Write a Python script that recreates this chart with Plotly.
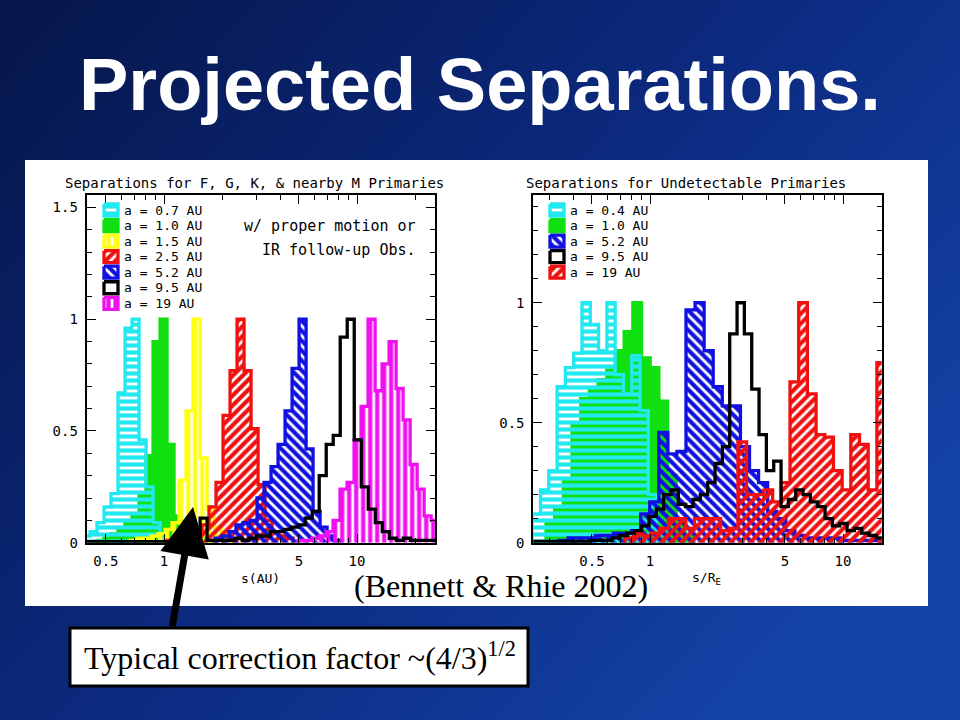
import base64
import plotly.graph_objects as go

# ---------------- data (log10 of first bin edge, bin width in dex, bin heights) ----------------
# Left panel: "Separations for F, G, K, & nearby M Primaries"  (x = s in AU)
L_WIDTH = 0.0363
L_CYAN_START = -0.4197
L_CYAN = [0.03, 0.05, 0.09, 0.16, 0.22, 0.67, 0.96, 1.0, 0.46, 0.25, 0.09, 0.02]
L_GREEN_START = -0.3472
L_GREEN = [0.01, 0.02, 0.04, 0.06, 0.09, 0.12, 0.21, 0.39, 0.9, 1.0, 0.44, 0.12, 0.07, 0.05, 0.03, 0.02, 0.01]
L_YELLOW_START = -0.1762
L_YELLOW = [0.01, 0.02, 0.02, 0.03, 0.04, 0.06, 0.09, 0.28, 0.59, 1.0, 0.38, 0.15, 0.07, 0.04, 0.02]
L_RED_START = 0.0155
L_RED = [0.01, 0.01, 0.02, 0.02, 0.04, 0.08, 0.16, 0.27, 0.57, 0.77, 1.0, 0.77, 0.51, 0.26, 0.1, 0.05, 0.03, 0.02]
L_BLUE_START = 0.2642
L_BLUE = [0.02, 0.03, 0.05, 0.08, 0.09, 0.1, 0.2, 0.27, 0.34, 0.44, 0.59, 0.78, 1.0, 0.42, 0.14, 0.07, 0.03, 0.01]
L_BLACK_START = -0.3938
L_BLACK = [0.005, 0.005, 0.005, 0.005, 0.005, 0.005, 0.005, 0.005, 0.005, 0.005, 0.005, 0.005, 0.005, 0.005, 0.005,
           0.01, 0.11, 0.01, 0.01, 0.01, 0.01, 0.02, 0.01, 0.02, 0.03, 0.03, 0.05, 0.05, 0.06, 0.07, 0.08,
           0.11, 0.14, 0.3, 0.44, 0.48, 0.92, 1.0, 0.46, 0.25, 0.15, 0.09, 0.05, 0.02, 0.01, 0.02, 0.01,
           0.01, 0.01, 0.01]
L_MAGENTA_START = 0.6943
L_MAGENTA = [0.01, 0.01, 0.02, 0.03, 0.05, 0.1, 0.24, 0.27, 0.46, 0.61, 1.0, 0.68, 0.8, 0.9, 0.69, 0.55, 0.35,
             0.24, 0.12, 0.1]
L_LABELS = ["a = 0.7 AU", "a = 1.0 AU", "a = 1.5 AU", "a = 2.5 AU", "a = 5.2 AU", "a = 9.5 AU", "a = 19 AU"]

# Right panel: "Separations for Undetectable Primaries"  (x = s / R_E)
R_CYAN_START, R_CYAN_WIDTH = -0.6104, 0.043
R_CYAN = [0.12, 0.22, 0.3, 0.65, 0.73, 0.79, 1.0, 0.91, 0.8, 1.0, 0.7, 0.62, 0.78, 0.55, 0.2, 0.05]
R_GREEN_START, R_GREEN_WIDTH = -0.5389, 0.045
R_GREEN = [0.08, 0.15, 0.26, 0.5, 0.6, 0.64, 0.68, 0.72, 0.8, 0.88, 1.0, 0.77, 0.73, 0.59, 0.28, 0.08, 0.03]
R_BLUE_START, R_BLUE_WIDTH = -0.4715, 0.047
R_BLUE = [0.01, 0.02, 0.02, 0.02, 0.03, 0.03, 0.04, 0.04, 0.05, 0.12, 0.17, 0.46, 0.37, 0.38, 0.97, 1.0, 0.8,
          0.65, 0.57, 0.57, 0.4, 0.3, 0.25, 0.13, 0.1, 0.05, 0.03, 0.02, 0.02, 0.02, 0.02, 0.01, 0.01, 0.01,
          0.01, 0.01]
R_BLACK_START, R_BLACK_WIDTH = -0.6130, 0.038
R_BLACK = [0.005, 0.005, 0.005, 0.005, 0.005, 0.005, 0.005, 0.005, 0.01, 0.01, 0.01, 0.02, 0.03,
           0.04, 0.05, 0.07, 0.11, 0.14, 0.2, 0.22, 0.16, 0.15, 0.18, 0.2, 0.25, 0.33, 0.4, 0.87, 1.0, 0.87,
           0.64, 0.45, 0.3, 0.34, 0.15, 0.18, 0.22, 0.2, 0.17, 0.15, 0.1, 0.07, 0.08, 0.05, 0.06, 0.04, 0.03,
           0.02]
R_RED_START, R_RED_WIDTH = -0.1295, 0.045
R_RED = [0.02, 0.04, 0.03, 0.04, 0.06, 0.1, 0.1, 0.06, 0.1, 0.1, 0.1, 0.05, 0.06, 0.42, 0.2, 0.2, 0.22, 0.17,
         0.25, 0.67, 1.0, 0.62, 0.45, 0.44, 0.3, 0.22, 0.45, 0.41, 0.22, 0.75]
R_LABELS = ["a = 0.4 AU", "a = 1.0 AU", "a = 5.2 AU", "a = 9.5 AU", "a = 19 AU"]

LEFT_TICKS = [0.5, 1, 5, 10]
LEFT_TICKTEXT = ["0.5", "1", "5", "10"]
RIGHT_TICKS = [0.5, 1, 5, 10]
RIGHT_TICKTEXT = ["0.5", "1", "5", "10"]

# ---------------- styles ----------------
CYAN, GREEN, YELLOW, RED, BLUE, BLACK, MAGENTA = "#22e8f0", "#10e010", "#ffff10", "#f01010", "#1010e0", "#000000", "#f010f0"
STYLE = {
    "cyan": (CYAN, "-"), "green": (GREEN, None), "yellow": (YELLOW, "|"), "red": (RED, "/"),
    "blue": (BLUE, "\\"), "black": (BLACK, "none"), "magenta": (MAGENTA, "|"),
}
MONO = "DejaVu Sans Mono"
W, H = 960, 720


def px(x):
    return x / W


def py(y):
    return 1 - y / H


def step_xy(start, width, heights):
    edges = [10 ** (start + i * width) for i in range(len(heights) + 1)]
    xs = [edges[0]] + edges[:-1] + [edges[-1]]
    ys = [0] + list(heights) + [0]
    return xs, ys


def fill_kwargs(color, pat):
    if pat is None:
        return dict(fill="tozeroy", fillcolor=color)
    if pat == "none":
        return dict(fill="none")
    return dict(fill="tozeroy", fillcolor="rgba(0,0,0,0)",
                fillpattern=dict(shape=pat, fgcolor=color, bgcolor="rgba(0,0,0,0)",
                                 size=7, solidity=0.6, fillmode="replace"))


fig = go.Figure()


def add_hist(start, width, heights, key, xa, ya):
    color, pat = STYLE[key]
    xs, ys = step_xy(start, width, heights)
    fig.add_trace(go.Scatter(x=xs, y=ys, mode="lines", line=dict(shape="hv", color=color, width=3.3),
                             xaxis=xa, yaxis=ya, showlegend=False, hoverinfo="skip",
                             **fill_kwargs(color, pat)))


# left panel draw order
add_hist(L_GREEN_START, L_WIDTH, L_GREEN, "green", "x", "y")
add_hist(L_CYAN_START, L_WIDTH, L_CYAN, "cyan", "x", "y")
add_hist(L_YELLOW_START, L_WIDTH, L_YELLOW, "yellow", "x", "y")
add_hist(L_RED_START, L_WIDTH, L_RED, "red", "x", "y")
add_hist(L_BLUE_START, L_WIDTH, L_BLUE, "blue", "x", "y")
add_hist(L_MAGENTA_START, L_WIDTH, L_MAGENTA, "magenta", "x", "y")
add_hist(L_BLACK_START, L_WIDTH, L_BLACK, "black", "x", "y")

# right panel draw order
add_hist(R_GREEN_START, R_GREEN_WIDTH, R_GREEN, "green", "x2", "y2")
add_hist(R_CYAN_START, R_CYAN_WIDTH, R_CYAN, "cyan", "x2", "y2")
add_hist(R_BLUE_START, R_BLUE_WIDTH, R_BLUE, "blue", "x2", "y2")
add_hist(R_RED_START, R_RED_WIDTH, R_RED, "red", "x2", "y2")
add_hist(R_BLACK_START, R_BLACK_WIDTH, R_BLACK, "black", "x2", "y2")

annotations = []


def text(x, y, s, size, family=MONO, color="black", xanchor="center"):
    annotations.append(dict(x=px(x), y=py(y), xref="paper", yref="paper", text=s, showarrow=False,
                            xanchor=xanchor, yanchor="middle",
                            font=dict(family=family, size=size, color=color)))


# legend swatches on a full-page pixel subplot (x3/y3)
def add_legend(keys, labels, x0, x1, text_x, y_first, dy):
    for i, (k, lab) in enumerate(zip(keys, labels)):
        color, pat = STYLE[k]
        yc = y_first + i * dy
        y0, y1 = yc - 6, yc + 6
        kw = fill_kwargs(color, pat)
        if kw.get("fill") == "tozeroy":
            kw["fill"] = "toself"
        fig.add_trace(go.Scatter(x=[x0, x1, x1, x0, x0], y=[y0, y0, y1, y1, y0], mode="lines",
                                 line=dict(color=color, width=3.3), xaxis="x3", yaxis="y3",
                                 showlegend=False, hoverinfo="skip", **kw))
        text(text_x, yc, lab, 13, xanchor="left")


add_legend(["cyan", "green", "yellow", "red", "blue", "black", "magenta"], L_LABELS, 104, 118, 122, 210, 15.55)
add_legend(["cyan", "green", "blue", "black", "red"], R_LABELS, 550, 564, 568, 210, 15.55)

axis_common = dict(showline=True, linecolor="black", linewidth=2, mirror="ticks", ticks="inside",
                   ticklen=9, tickwidth=1.3, tickcolor="black", showgrid=False, zeroline=False,
                   tickfont=dict(family=MONO, size=14, color="black"), ticklabelstandoff=4,
                   automargin=False)

fig.update_layout(
    width=W, height=H, margin=dict(l=0, r=0, t=0, b=0, pad=0, autoexpand=False),
    paper_bgcolor="#0c2470", plot_bgcolor="rgba(0,0,0,0)", showlegend=False,
    xaxis=dict(domain=[px(86.7), px(435)], type="log", range=[-0.4005, 1.404], anchor="y",
               tickvals=LEFT_TICKS, ticktext=LEFT_TICKTEXT,
               minor=dict(tickvals=[0.4, 0.6, 0.7, 0.8, 0.9, 2, 3, 4, 6, 7, 8, 9, 20], ticklen=5,
                          ticks="inside", tickcolor="black"),
               **axis_common),
    yaxis=dict(domain=[py(542.7), py(195)], range=[0, 1.556], anchor="x",
               tickvals=[0, 0.5, 1, 1.5], ticktext=["0", "0.5", "1", "1.5"],
               minor=dict(dtick=0.1, ticklen=5, ticks="inside", tickcolor="black"),
               **axis_common),
    xaxis2=dict(domain=[px(533.3), px(881.7)], type="log", range=[-0.6047, 1.2005], anchor="y2",
                tickvals=RIGHT_TICKS, ticktext=RIGHT_TICKTEXT,
                minor=dict(tickvals=[0.3, 0.4, 0.6, 0.7, 0.8, 0.9, 2, 3, 4, 6, 7, 8, 9], ticklen=5,
                           ticks="inside", tickcolor="black"),
                **axis_common),
    yaxis2=dict(domain=[py(542.7), py(195)], range=[0, 1.449], anchor="x2",
                tickvals=[0, 0.5, 1], ticktext=["0", "0.5", "1"],
                minor=dict(dtick=0.1, ticklen=5, ticks="inside", tickcolor="black"),
                **axis_common),
    xaxis3=dict(domain=[0, 1], range=[0, W], visible=False, anchor="y3", fixedrange=True),
    yaxis3=dict(domain=[0, 1], range=[H, 0], visible=False, anchor="x3", fixedrange=True),
)

# background gradient
svg = ('<svg xmlns="http://www.w3.org/2000/svg" width="960" height="720">'
       '<defs><linearGradient id="g" x1="0" y1="0" x2="1" y2="0.7">'
       '<stop offset="0" stop-color="#06164a"/><stop offset="0.55" stop-color="#0c2a80"/>'
       '<stop offset="1" stop-color="#1444a8"/></linearGradient></defs>'
       '<rect width="960" height="720" fill="url(#g)"/></svg>')
src = "data:image/svg+xml;base64," + base64.b64encode(svg.encode()).decode()
fig.add_layout_image(dict(source=src, xref="paper", yref="paper", x=0, y=1, sizex=1, sizey=1,
                          sizing="stretch", layer="below"))

shapes = [
    dict(type="rect", xref="paper", yref="paper", x0=px(25), x1=px(928), y0=py(606), y1=py(160),
         fillcolor="white", line=dict(width=0), layer="below"),
    dict(type="rect", xref="paper", yref="paper", x0=px(70), x1=px(528), y0=py(686), y1=py(628),
         fillcolor="white", line=dict(color="black", width=3), layer="above"),
]

text(480, 84, "<b>Projected Separations.</b>", 74, family="Liberation Sans", color="white")
text(254, 183, "Separations for F, G, K, & nearby M Primaries", 14)
text(686, 183, "Separations for Undetectable Primaries", 14)
text(418, 226, "w/ proper motion or", 15, xanchor="right")
text(418, 250, "IR follow-up Obs.", 15, xanchor="right")
text(260, 578, "s(AU)", 13)
text(706, 578, "s/R<sub>E</sub>", 13)
text(501, 586, "(Bennett &amp; Rhie 2002)", 32, family="Liberation Serif")
text(82, 656, "Typical correction factor ~(4/3)<sup>1/2</sup>", 32, family="Liberation Serif", xanchor="left")
annotations.append(dict(x=px(193), y=py(507), ax=-21, ay=121, text="", showarrow=True, arrowhead=2,
                        arrowsize=1.4, arrowwidth=7, arrowcolor="black", xref="paper", yref="paper"))
fig.update_layout(shapes=shapes, annotations=annotations)

fig.write_html("out.html", config={"displayModeBar": False},
               post_script="document.body.style.margin='0px';document.body.style.overflow='hidden';")
